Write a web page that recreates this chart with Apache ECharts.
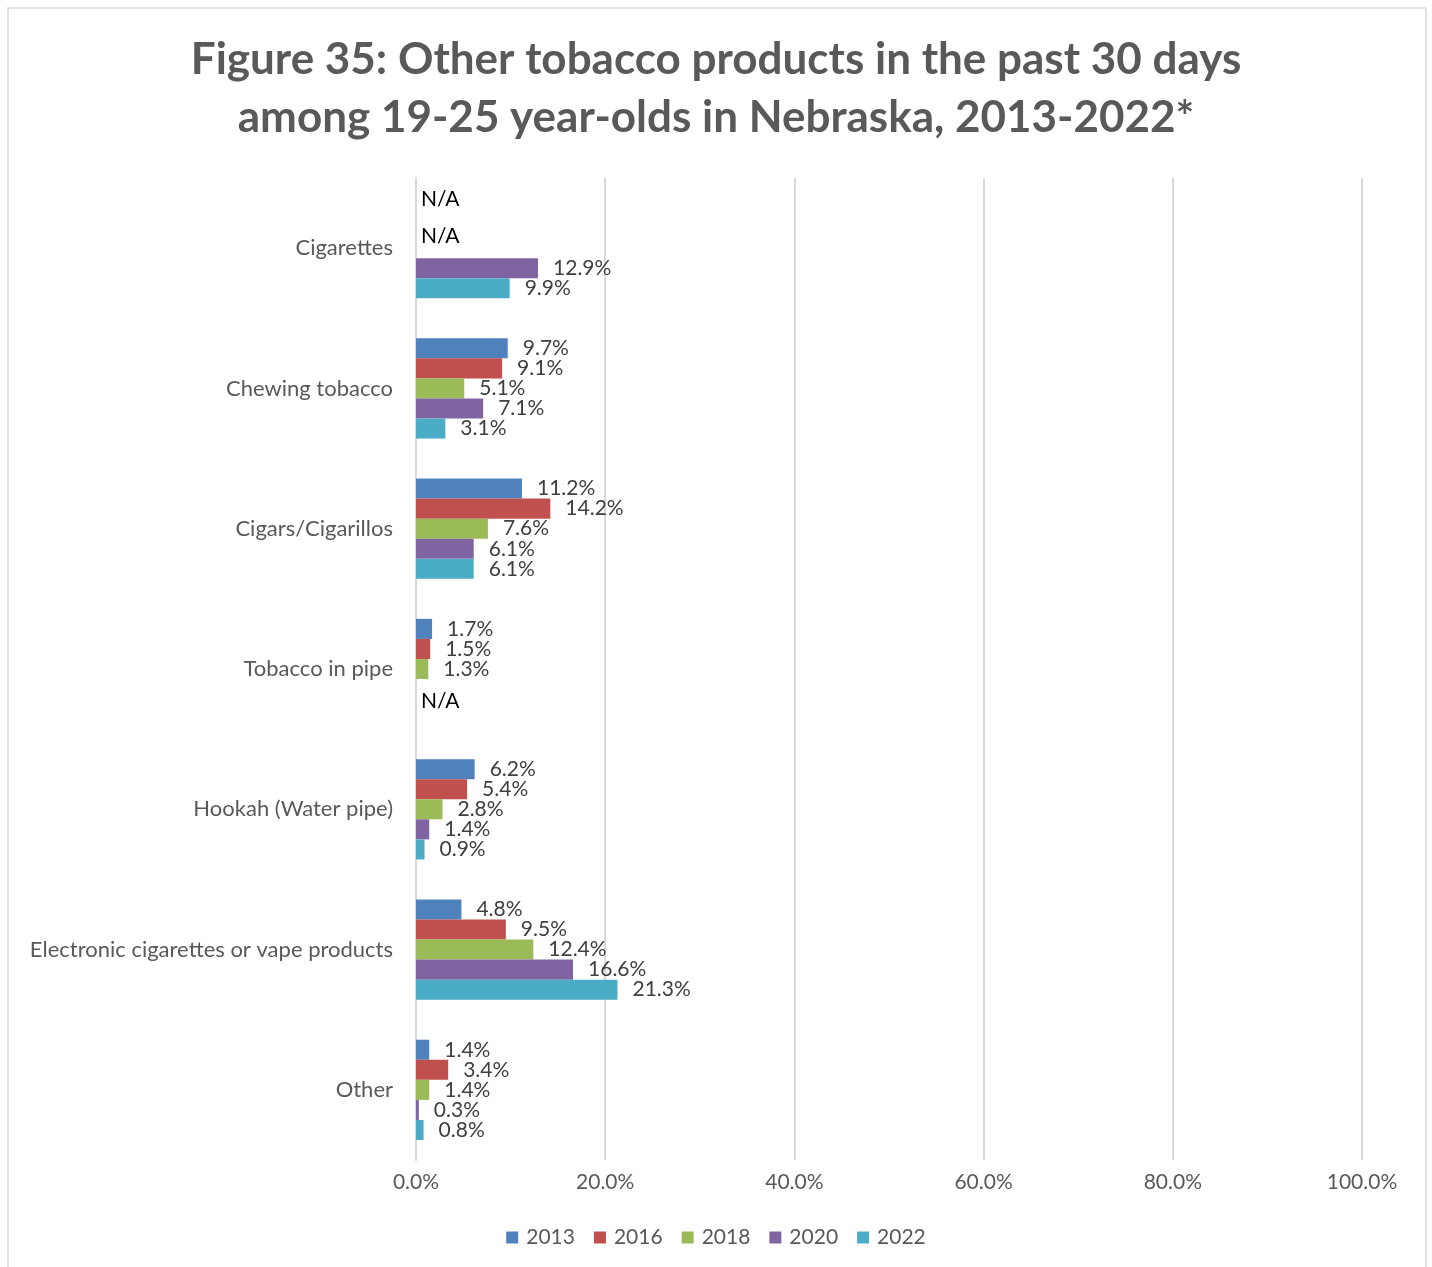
<!DOCTYPE html>
<html>
<head>
<meta charset="utf-8">
<title>Figure 35</title>
<script src="https://cdn.jsdelivr.net/npm/echarts@6/dist/echarts.min.js"></script>
<style>
  html, body { margin: 0; padding: 0; background: #fff; }
  #chart { width: 1432px; height: 1267px; }
</style>
</head>
<body>
<div id="chart"></div>
<script>
// Product categories, top to bottom
const categories = [
  'Cigarettes',
  'Chewing tobacco',
  'Cigars/Cigarillos',
  'Tobacco in pipe',
  'Hookah (Water pipe)',
  'Electronic cigarettes or vape products',
  'Other'
];
const years = ['2013', '2016', '2018', '2020', '2022'];

// Percent using each product in the past 30 days (null = not asked / N/A)
const v2013 = [null, 9.7, 11.2, 1.7, 6.2, 4.8, 1.4];
const v2016 = [null, 9.1, 14.2, 1.5, 5.4, 9.5, 3.4];
const v2018 = [null, 5.1, 7.6, 1.3, 2.8, 12.4, 1.4];
const v2020 = [12.9, 7.1, 6.1, null, 1.4, 16.6, 0.3];
const v2022 = [9.9, 3.1, 6.1, null, 0.9, 21.3, 0.8];

const xTicks = [0, 20, 40, 60, 80, 100];

// Which missing values carry an "N/A" note: [series index, category index]
const naNotes = [[0, 0], [1, 0], [4, 3]];

const seriesValues = [v2013, v2016, v2018, v2020, v2022];
const colors = ['#4F81BD', '#C0504D', '#9BBB59', '#8064A2', '#4BACC6'];
const naOffsets = { '0-0': [0, -9], '1-0': [0, 8], '4-3': [0, -8] };

const FONT = 'Lato';

const series = seriesValues.map((vals, si) => ({
  name: years[si],
  type: 'bar',
  barGap: '0%',
  barCategoryGap: '28.5%',
  itemStyle: { color: colors[si] },
  label: {
    show: true,
    position: 'right',
    distance: 15,
    fontFamily: FONT,
    fontSize: 21,
    color: '#404040',
    formatter: p => p.value == null ? '' : Number(p.value).toFixed(1) + '%'
  },
  data: vals.map((v, ci) => {
    if (v != null) return v;
    const note = naNotes.find(n => n[0] === si && n[1] === ci);
    if (!note) return null;
    return {
      value: 0,
      label: {
        formatter: 'N/A',
        distance: 5,
        color: '#000000',
        offset: naOffsets[si + '-' + ci]
      }
    };
  })
}));

const chart = echarts.init(document.getElementById('chart'), null, { renderer: 'canvas' });
chart.setOption({
  backgroundColor: '#ffffff',
  animation: false,
  color: colors,
  title: {
    text: 'Figure 35: Other tobacco products in the past 30 days\namong 19-25 year-olds in Nebraska, 2013-2022*',
    left: 'center',
    top: 26,
    textStyle: {
      fontFamily: FONT,
      fontWeight: 'bold',
      fontSize: 44,
      lineHeight: 58,
      color: '#595959'
    }
  },
  graphic: [{
    type: 'rect',
    shape: { x: 8, y: 8, width: 1418, height: 1280 },
    style: { fill: 'none', stroke: '#d9d9d9', lineWidth: 1.5 },
    silent: true,
    z: -1
  }],
  legend: {
    bottom: 14,
    left: 'center',
    itemWidth: 12,
    itemHeight: 12,
    itemGap: 19,
    icon: 'rect',
    textStyle: { fontFamily: FONT, fontSize: 21, color: '#595959', padding: [0, 0, 0, 3] },
    data: years
  },
  grid: { left: 416, right: 70, top: 178, bottom: 107, containLabel: false },
  xAxis: {
    type: 'value',
    min: xTicks[0],
    max: xTicks[xTicks.length - 1],
    interval: xTicks[1] - xTicks[0],
    axisLine: { show: false },
    axisTick: { show: false },
    splitLine: { show: true, lineStyle: { color: '#d9d9d9', width: 2 } },
    axisLabel: {
      fontFamily: FONT,
      fontSize: 21,
      color: '#595959',
      margin: 12,
      formatter: v => v.toFixed(1) + '%'
    }
  },
  yAxis: {
    type: 'category',
    inverse: true,
    data: categories,
    axisLine: { show: true, lineStyle: { color: '#d9d9d9', width: 2 } },
    axisTick: { show: false },
    axisLabel: { fontFamily: FONT, fontSize: 22, color: '#595959', margin: 23 }
  },
  series: series
});
</script>
</body>
</html>
